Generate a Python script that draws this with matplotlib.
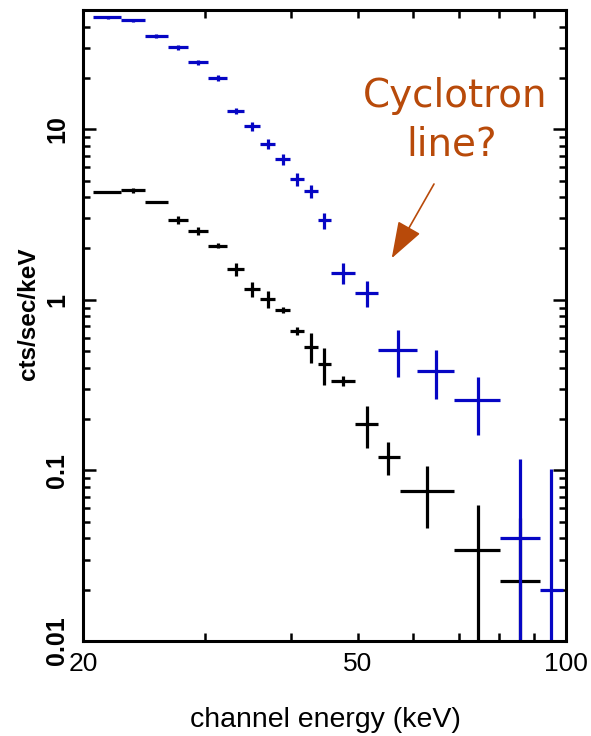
import matplotlib
matplotlib.use("Agg")
import matplotlib.pyplot as plt
from matplotlib.ticker import FixedLocator, NullFormatter, FixedFormatter
import numpy as np

# Channel energies (keV): bin centre and bin edges
black_e = [21.74, 23.63, 25.51, 27.45, 29.34, 31.37, 33.31, 35.13, 37.05, 38.95,
           40.80, 42.75, 44.64, 47.56, 51.53, 55.26, 62.95, 74.59, 85.80]
black_lo = [20.68, 22.70, 24.59, 26.55, 28.38, 30.34, 32.32, 34.20, 36.07, 37.92,
            39.86, 41.77, 43.76, 45.70, 49.51, 53.45, 57.52, 68.87, 80.26]
black_hi = [22.70, 24.59, 26.55, 28.38, 30.34, 32.32, 34.20, 36.07, 37.92, 39.86,
            41.77, 43.76, 45.70, 49.51, 53.45, 57.52, 68.87, 80.26, 91.71]
black_rate = [4.30, 4.40, 3.72, 2.94, 2.53, 2.08, 1.51, 1.16, 1.01, 0.87,
              0.66, 0.53, 0.42, 0.334, 0.188, 0.120, 0.076, 0.034, 0.0225]
black_err = [0.06, 0.15, 0.05, 0.16, 0.14, 0.07, 0.13, 0.12, 0.12, 0.036,
             0.037, 0.106, 0.105, 0.023, 0.052, 0.026, 0.030, 0.029, 0.03]

blue_e = [21.74, 23.63, 25.51, 27.45, 29.34, 31.37, 33.31, 35.13, 37.05, 38.95,
          40.80, 42.75, 44.64, 47.56, 51.53, 57.13, 64.86, 74.59, 85.80, 95.13]
blue_lo = [20.68, 22.70, 24.59, 26.55, 28.38, 30.34, 32.32, 34.20, 36.07, 37.92,
           39.86, 41.77, 43.76, 45.70, 49.51, 53.45, 60.89, 68.87, 80.26, 91.71]
blue_hi = [22.70, 24.59, 26.55, 28.38, 30.34, 32.32, 34.20, 36.07, 37.92, 39.86,
           41.77, 43.76, 45.70, 49.51, 53.45, 60.89, 68.87, 80.26, 91.71, 99.0]
blue_rate = [45.4, 43.4, 35.2, 30.2, 24.7, 20.0, 12.8, 10.4, 8.2, 6.66,
             5.08, 4.34, 2.92, 1.44, 1.10, 0.508, 0.384, 0.258, 0.0402, 0.0200]
blue_err = [0.9, 0.9, 0.97, 0.9, 0.85, 0.7, 0.58, 0.58, 0.51, 0.47,
            0.43, 0.37, 0.33, 0.205, 0.195, 0.156, 0.123, 0.096, 0.077, 0.082]

x_ticks = [20, 50, 100]
x_tick_labels = ["20", "50", "100"]
x_minor = [30, 40, 60, 70, 80, 90]
y_ticks = [0.01, 0.1, 1, 10]
y_tick_labels = ["0.01", "0.1", "1", "10"]

BLUE = "#0606C4"
NOTE = "#B84A0A"
W, H = 591, 736

fig = plt.figure(figsize=(W / 100, H / 100), dpi=100)
ax = fig.add_axes([83 / W, 1 - 641 / H, 483 / W, 631 / H])
ax.set_xscale("log")
ax.set_yscale("log")


def draw_spectrum(e, lo, hi, rate, err, color):
    e = np.asarray(e)
    xerr = [e - np.asarray(lo), np.asarray(hi) - e]
    ax.errorbar(e, rate, xerr=xerr, yerr=err, fmt="none", ecolor=color,
                elinewidth=2.3, capsize=0, clip_on=True)


draw_spectrum(black_e, black_lo, black_hi, black_rate, black_err, "black")
draw_spectrum(blue_e, blue_lo, blue_hi, blue_rate, blue_err, BLUE)

ax.set_xlim(20, 100)
ax.set_ylim(0.01, 50)

for s in ax.spines.values():
    s.set_linewidth(2.2)

ax.xaxis.set_major_locator(FixedLocator(x_ticks))
ax.xaxis.set_major_formatter(FixedFormatter(x_tick_labels))
ax.xaxis.set_minor_locator(FixedLocator(x_minor))
ax.xaxis.set_minor_formatter(NullFormatter())

ax.yaxis.set_major_locator(FixedLocator(y_ticks))
ax.yaxis.set_major_formatter(FixedFormatter(y_tick_labels))
minor_y = [m * 10.0 ** d for d in range(-2, 2) for m in range(2, 10)]
ax.yaxis.set_minor_locator(FixedLocator(minor_y))
ax.yaxis.set_minor_formatter(NullFormatter())

ax.tick_params(axis="both", which="both", direction="in", top=True, right=True,
               width=1.8, colors="black")
ax.tick_params(axis="x", which="both", length=5.5, pad=8, labelsize=19)
ax.tick_params(axis="y", which="major", length=9.4, pad=10, labelsize=18)
ax.tick_params(axis="y", which="minor", length=5)
for lab in ax.get_xticklabels():
    lab.set_fontfamily("Liberation Sans")
for lab in ax.get_yticklabels():
    lab.set_fontfamily("Liberation Sans")
    lab.set_fontweight("bold")
    lab.set_rotation(90)
    lab.set_verticalalignment("center")

fig.text(325 / W, 1 - 720 / H, "channel energy (keV)", ha="center", va="center",
         fontsize=20.5, family="Liberation Sans")
fig.text(28 / W, 1 - 314 / H, "cts/sec/keV", ha="center", va="center",
         rotation=90, fontsize=17.5, fontweight="bold", family="Liberation Sans")

# Annotation pointing at the dip in the upper spectrum
fig.text(455 / W, 1 - 107 / H, "Cyclotron", ha="center", va="baseline",
         fontsize=28, color=NOTE, family="DejaVu Sans")
fig.text(452 / W, 1 - 155 / H, "line?", ha="center", va="baseline",
         fontsize=28, color=NOTE, family="DejaVu Sans")
ax.annotate("", xy=(391.7 / W, 1 - 258.3 / H), xytext=(434 / W, 1 - 184 / H),
            xycoords="figure fraction", textcoords="figure fraction",
            arrowprops=dict(arrowstyle="-|>,head_length=1.15,head_width=0.4",
                            mutation_scale=20, lw=1.2, color=NOTE,
                            shrinkA=0, shrinkB=0))

fig.savefig("out.png", dpi=100)
